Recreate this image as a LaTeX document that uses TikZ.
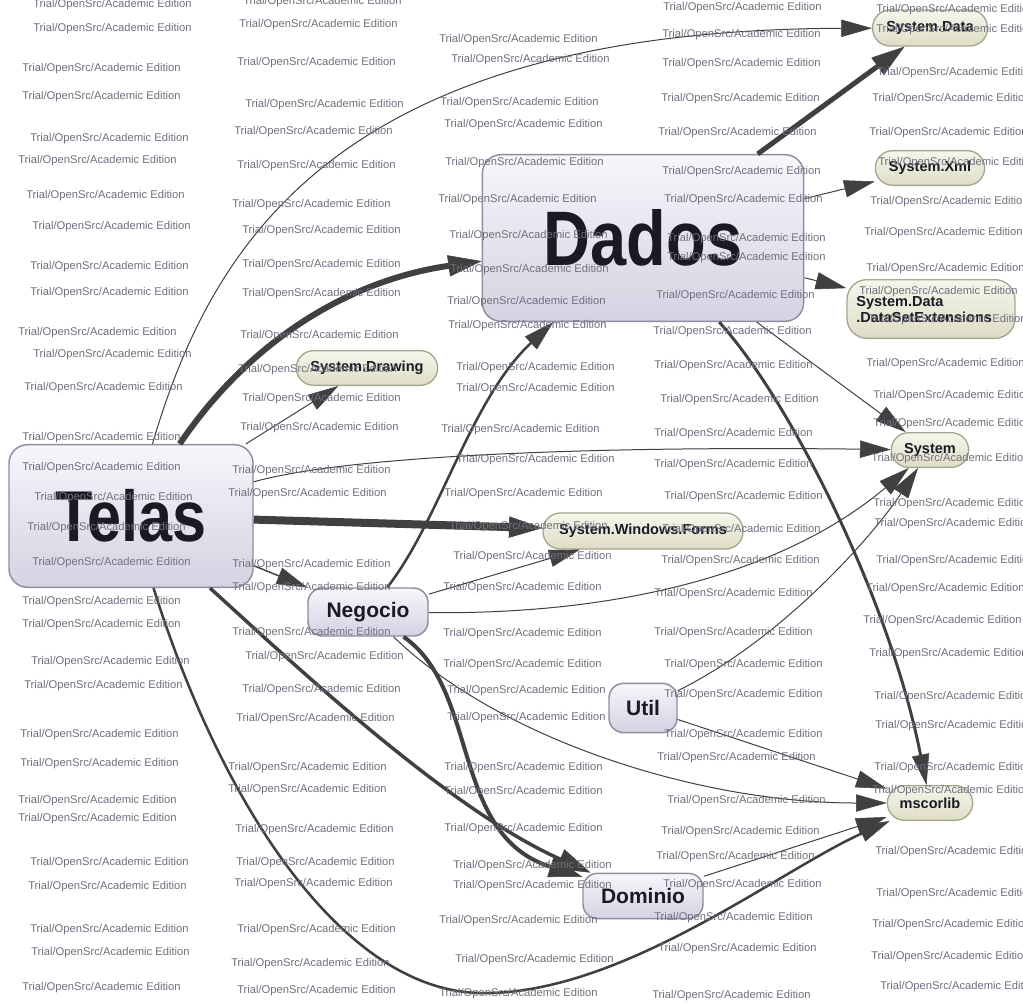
\documentclass[tikz,border=0pt]{standalone}
\usepackage{fontspec}
\setmainfont{Liberation Sans}
\usetikzlibrary{arrows.meta}
\definecolor{edgec}{HTML}{404040}
\definecolor{boxline}{HTML}{8E8EA0}
\definecolor{lavtop}{HTML}{F6F6FB}
\definecolor{lavbot}{HTML}{D3D3E2}
\definecolor{pillline}{HTML}{A6A690}
\definecolor{pilltop}{HTML}{F6F6EC}
\definecolor{pillbot}{HTML}{DDDDC6}
\definecolor{wmc}{HTML}{70707E}
\definecolor{labc}{HTML}{1A1A24}
\tikzset{
  bigbox/.style={draw=boxline, line width=1.1pt, rounded corners=14pt, top color=lavtop, bottom color=lavbot, inner sep=0pt, text=labc},
  pill/.style={draw=pillline, line width=1pt, rounded corners=13pt, top color=pilltop, bottom color=pillbot, inner sep=0pt, text=labc, font=\fontsize{10.9}{12}\selectfont\bfseries},
  dep/.style={draw=edgec, line width=0.75pt, -{Triangle[length=23pt,width=13pt,line width=0.4pt]}},
  depw/.style={draw=edgec, -{Triangle[length=25pt,width=16pt,line width=0.4pt]}},
  wm/.style={anchor=west, text=wmc, font=\fontsize{8.4}{9}\selectfont, inner sep=0pt},
}
\begin{document}
\begin{tikzpicture}[x=0.75pt,y=-0.75pt]
\useasboundingbox (0,0) rectangle (1023,1002);
\fill[white] (0,0) rectangle (1023,1002);

% nodes
\node[bigbox, minimum width=183pt, minimum height=107pt] (telas) at (131,516)
  {\fontsize{54}{58}\selectfont\bfseries\scalebox{0.85}[1]{Telas}};
\node[bigbox, minimum width=241pt, minimum height=125pt] (dados) at (643,238)
  {\fontsize{58}{62}\selectfont\bfseries\scalebox{0.84}[1]{Dados}};
\node[bigbox, rounded corners=11pt, minimum width=90pt, minimum height=36pt] (negocio) at (368,612)
  {\fontsize{15.75}{17}\selectfont\bfseries Negocio};
\node[bigbox, rounded corners=11pt, minimum width=51pt, minimum height=37pt] (util) at (643,708)
  {\fontsize{15.75}{17}\selectfont\bfseries Util};
\node[bigbox, rounded corners=11pt, minimum width=90pt, minimum height=34pt] (dominio) at (643,896)
  {\fontsize{15.75}{17}\selectfont\bfseries Dominio};

\node[pill, minimum width=86pt, minimum height=27pt] (sdata) at (930,28) {System.Data};
\node[pill, minimum width=82pt, minimum height=26pt] (sxml) at (930,168) {System.Xml};
\node[pill, rounded corners=15pt, minimum width=126pt, minimum height=44pt, align=left, text width=112pt] (sdse) at (931,309)
  {System.Data\\.DataSetExtensions};
\node[pill, minimum width=106pt, minimum height=26pt] (sdraw) at (367,368) {System.Drawing};
\node[pill, minimum width=58pt, minimum height=26pt] (system) at (930,450) {System};
\node[pill, minimum width=150pt, minimum height=27pt] (swf) at (643,531) {System.Windows.Forms};
\node[pill, minimum width=64pt, minimum height=26pt] (mscorlib) at (930,803) {mscorlib};

% connectors from Telas
\draw[depw, line width=4.5pt] (telas) .. controls (250,340) and (350,280) .. (dados);
\draw[dep] (telas) .. controls (210,250) and (330,30) .. (sdata);
\draw[dep] (telas) -- (sdraw);
\draw[dep] (telas) .. controls (350,455) and (600,446) .. (system);
\draw[depw, line width=6pt] (telas) -- (swf);
\draw[dep, line width=1.1pt] (telas) -- (negocio);
\draw[depw, line width=2.6pt] (telas) .. controls (300,670) and (450,810) .. (dominio);
\draw[dep, line width=1.9pt] (telas) .. controls (220,800) and (340,990) .. (480,993)
  .. controls (620,996) and (780,870) .. (mscorlib);

% connectors from Dados
\draw[depw, line width=3.75pt] (dados) -- (sdata);
\draw[dep] (dados) -- (sxml);
\draw[dep] (dados) -- (sdse);
\draw[dep] (dados) -- (system);
\draw[dep, line width=2.2pt] (dados) .. controls (790,400) and (890,600) .. (mscorlib);

% connectors from Negocio
\draw[dep, line width=1.9pt] (negocio) .. controls (440,520) and (470,400) .. (dados);
\draw[dep] (negocio) -- (swf);
\draw[dep] (negocio) .. controls (650,615) and (800,560) .. (system);
\draw[depw, line width=3pt] (negocio) .. controls (480,690) and (450,835) .. (dominio);
\draw[dep] (negocio) .. controls (500,740) and (700,803) .. (mscorlib);

% connectors from Util and Dominio
\draw[dep] (util) .. controls (780,640) and (870,540) .. (system);
\draw[dep] (util) -- (mscorlib);
\draw[dep] (dominio) -- (mscorlib);

% watermark texts
\foreach \x/\y [count=\i] in {
33/5,33/29,22/69,22/97,30/139,18/161,26/196,32/227,30/267,30/293,18/333,33/355,24/388,22/438,22/468,34/498,27/528,32/563,22/602,22/625,31/662,24/686,20/735,20/764,18/801,18/819,30/863,28/887,30/930,31/953,22/988,
243/2,239/25,237/63,245/105,234/132,237/166,232/205,242/231,242/265,242/294,240/336,238/370,242/399,240/428,232/471,228/494,232/565,232/588,232/633,245/657,242/690,236/719,228/768,228/790,235/830,236/863,234/884,237/930,231/964,237/991,
439/40,451/60,440/103,444/125,445/163,438/200,449/236,450/270,447/302,448/326,456/368,456/389,441/430,456/460,444/494,449/527,453/557,443/588,443/634,443/665,447/691,447/718,444/768,444/792,444/829,453/866,453/886,439/921,455/960,439/994,
663/8,662/35,662/64,661/99,658/133,662/172,664/200,667/239,667/258,656/296,653/332,654/366,660/400,654/434,654/465,664/497,662/530,661/561,654/594,654/633,664/665,664/695,664/735,657/758,667/801,661/832,656/857,663/885,654/918,658/949,652/996,
876/10,876/30,877/73,872/99,869/133,878/163,870/202,864/233,866/269,859/292,868/320,866/364,873/396,873/424,871/459,873/504,874/524,876/561,866/589,863/621,869/654,874/697,875/726,874/768,872/791,875/852,876/894,872/925,871/957,880/987}
  \node[wm] (wm\i) at (\x,\y) {Trial/OpenSrc/Academic Edition};
\end{tikzpicture}
\end{document}
